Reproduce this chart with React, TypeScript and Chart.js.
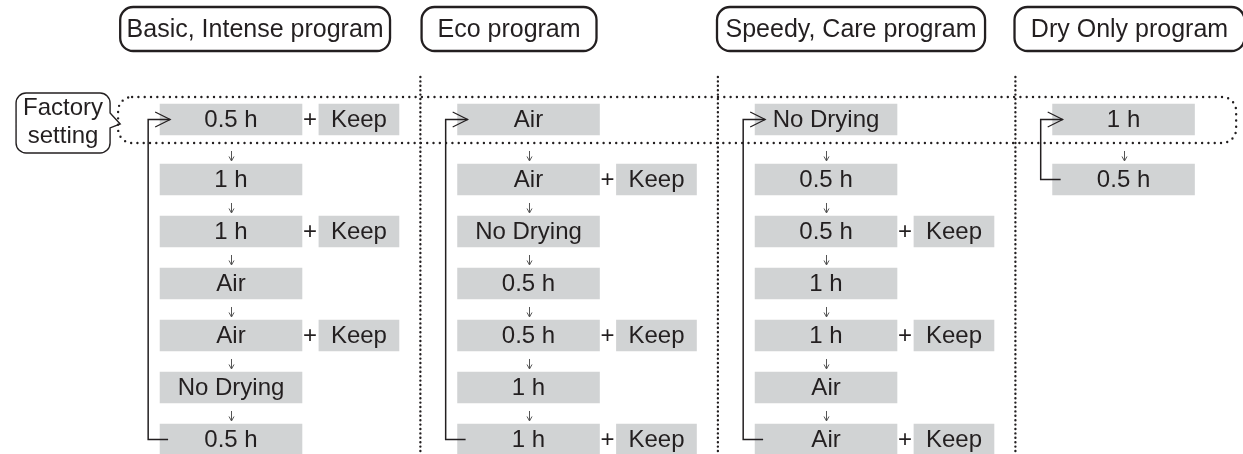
import React, { useEffect, useRef } from "react";
import { Chart, registerables } from "chart.js";

Chart.register(...registerables);

// ---------- DATA ----------
const programs = ["Basic, Intense program", "Eco program", "Speedy, Care program", "Dry Only program"];

const basicOptions = ["0.5 h", "1 h", "1 h", "Air", "Air", "No Drying", "0.5 h"];
const basicKeep = [true, false, true, false, true, false, false];

const ecoOptions = ["Air", "Air", "No Drying", "0.5 h", "0.5 h", "1 h", "1 h"];
const ecoKeep = [false, true, false, false, true, false, true];

const speedyOptions = ["No Drying", "0.5 h", "0.5 h", "1 h", "1 h", "Air", "Air"];
const speedyKeep = [false, false, true, false, true, false, true];

const dryOnlyOptions = ["1 h", "0.5 h"];
const dryOnlyKeep = [false, false];

const keepLabel = "Keep";
const plusLabel = "+";
const factoryLabel = ["Factory", "setting"];

// ---------- LAYOUT (column units on x, row units on y) ----------
const X_MIN = -0.538;
const X_MAX = 3.64;
const Y_MIN = -2.298;
const Y_MAX = 6.433;
const ROW_GAP_EXTRA = 0.154; // extra gap after the factory-setting row
const BOX_W = 0.477;
const KEEP_X0 = 0.534;
const KEEP_X1 = 0.803;
const PLUS_X = 0.504;
const LOOP_X = -0.04;
const LOOP_TIP = 0.034;
const LOOP_END = 0.027;
const SEP_X = -0.125;
const SEP_TOP = -0.817;
const HEADER_Y = -1.74;
const HEADER_HALF = 0.423;
const HEADER_SPAN: [number, number][] = [
  [-0.134, 0.773],
  [-0.121, 0.467],
  [-0.128, 0.773],
  [-0.128, 0.645],
];
const FACTORY_RECT = { x0: -0.141, x1: 3.617, y0: -0.433, y1: 0.452 };
const CALLOUT = { x0: -0.484, x1: -0.168, y0: -0.51, y1: 0.644, tipX: -0.134, pTop: -0.125, pTip: 0.087, pBot: 0.163 };
const BAR_PX = 31;

const GRAY = "#d1d3d4";
const INK = "#231f20";
const FONT = "'Liberation Sans', Arial, Helvetica, sans-serif";

const rowY = (r: number) => (r === 0 ? 0 : r + ROW_GAP_EXTRA);

const columns = [
  { title: programs[0], options: basicOptions, keep: basicKeep },
  { title: programs[1], options: ecoOptions, keep: ecoKeep },
  { title: programs[2], options: speedyOptions, keep: speedyKeep },
  { title: programs[3], options: dryOnlyOptions, keep: dryOnlyKeep },
];

const diagramPlugin = {
  id: "dryingDiagram",
  afterDatasetsDraw(chart: any) {
    const ctx: CanvasRenderingContext2D = chart.ctx;
    const xs = chart.scales.x;
    const ys = chart.scales.y;
    const X = (v: number) => xs.getPixelForValue(v);
    const Y = (v: number) => ys.getPixelForValue(v);
    const half = BAR_PX / 2;

    ctx.save();
    ctx.strokeStyle = INK;
    ctx.fillStyle = INK;

    // dotted separators
    ctx.lineCap = "round";
    ctx.lineWidth = 2.4;
    ctx.setLineDash([0, 4.4]);
    for (let c = 1; c < columns.length; c++) {
      ctx.beginPath();
      ctx.moveTo(X(c + SEP_X), Y(SEP_TOP));
      ctx.lineTo(X(c + SEP_X), Y(Y_MAX));
      ctx.stroke();
    }
    // dotted factory-setting frame
    ctx.setLineDash([0, 6.3]);
    ctx.beginPath();
    ctx.roundRect(
      X(FACTORY_RECT.x0),
      Y(FACTORY_RECT.y0),
      X(FACTORY_RECT.x1) - X(FACTORY_RECT.x0),
      Y(FACTORY_RECT.y1) - Y(FACTORY_RECT.y0),
      14
    );
    ctx.stroke();
    ctx.setLineDash([]);
    ctx.lineCap = "butt";

    // header boxes
    ctx.lineWidth = 2.3;
    ctx.font = `25px ${FONT}`;
    ctx.textAlign = "center";
    ctx.textBaseline = "middle";
    columns.forEach((col, c) => {
      const [a, b] = HEADER_SPAN[c];
      const x0 = X(c + a);
      const x1 = X(c + b);
      const y0 = Y(HEADER_Y - HEADER_HALF);
      const y1 = Y(HEADER_Y + HEADER_HALF);
      ctx.beginPath();
      ctx.roundRect(x0, y0, x1 - x0, y1 - y0, 13);
      ctx.stroke();
      ctx.fillText(col.title, (x0 + x1) / 2, (y0 + y1) / 2 + 1);
    });

    // factory callout
    {
      const x0 = X(CALLOUT.x0), x1 = X(CALLOUT.x1), y0 = Y(CALLOUT.y0), y1 = Y(CALLOUT.y1);
      const r = 10;
      ctx.lineWidth = 1.4;
      ctx.beginPath();
      ctx.moveTo(x0 + r, y0);
      ctx.lineTo(x1 - r, y0);
      ctx.arcTo(x1, y0, x1, y0 + r, r);
      ctx.lineTo(x1, Y(CALLOUT.pTop));
      ctx.lineTo(X(CALLOUT.tipX), Y(CALLOUT.pTip));
      ctx.lineTo(x1, Y(CALLOUT.pBot));
      ctx.lineTo(x1, y1 - r);
      ctx.arcTo(x1, y1, x1 - r, y1, r);
      ctx.lineTo(x0 + r, y1);
      ctx.arcTo(x0, y1, x0, y1 - r, r);
      ctx.lineTo(x0, y0 + r);
      ctx.arcTo(x0, y0, x0 + r, y0, r);
      ctx.closePath();
      ctx.stroke();
      ctx.font = `24px ${FONT}`;
      ctx.textAlign = "center";
      ctx.textBaseline = "alphabetic";
      const cx = (x0 + x1) / 2;
      ctx.fillText(factoryLabel[0], cx, y0 + 22);
      ctx.fillText(factoryLabel[1], cx, y0 + 50);
    }

    // loop lines with arrowheads
    ctx.lineWidth = 1.5;
    columns.forEach((col, c) => {
      const last = col.options.length - 1;
      const lx = X(c + LOOP_X);
      const yTop = Y(rowY(0));
      const yBot = Y(rowY(last));
      ctx.beginPath();
      ctx.moveTo(X(c + LOOP_END), yBot);
      ctx.lineTo(lx, yBot);
      ctx.lineTo(lx, yTop);
      ctx.lineTo(X(c + LOOP_TIP), yTop);
      ctx.stroke();
      const tx = X(c + LOOP_TIP);
      ctx.lineWidth = 1.2;
      ctx.beginPath();
      ctx.moveTo(tx - 15, yTop - 7.5);
      ctx.lineTo(tx, yTop);
      ctx.lineTo(tx - 15, yTop + 7.5);
      ctx.stroke();
      ctx.lineWidth = 1.5;
    });

    // down arrows between options
    ctx.strokeStyle = "#555";
    ctx.lineWidth = 1;
    columns.forEach((col, c) => {
      const ax = Math.round(X(c + BOX_W / 2)) + 0.5;
      for (let r = 0; r < col.options.length - 1; r++) {
        const yb = Y(rowY(r + 1)) - half - 3;
        const ya = yb - 10;
        ctx.beginPath();
        ctx.moveTo(ax, ya);
        ctx.lineTo(ax, yb);
        ctx.moveTo(ax - 2.5, yb - 4.5);
        ctx.lineTo(ax, yb);
        ctx.lineTo(ax + 2.5, yb - 4.5);
        ctx.stroke();
      }
    });

    // option texts, plus signs and keep texts
    ctx.fillStyle = INK;
    ctx.font = `24px ${FONT}`;
    ctx.textAlign = "center";
    ctx.textBaseline = "middle";
    columns.forEach((col, c) => {
      col.options.forEach((opt, r) => {
        const y = Y(rowY(r)) + 1;
        ctx.fillText(opt, X(c + BOX_W / 2), y);
        if (col.keep[r]) {
          ctx.fillText(plusLabel, X(c + PLUS_X), y);
          ctx.fillText(keepLabel, X(c + (KEEP_X0 + KEEP_X1) / 2), y);
        }
      });
    });

    ctx.restore();
  },
};

export default function App() {
  const ref = useRef<HTMLCanvasElement>(null);

  useEffect(() => {
    if (!ref.current) return;
    const optionBars: { x: [number, number]; y: number }[] = [];
    const keepBars: { x: [number, number]; y: number }[] = [];
    columns.forEach((col, c) => {
      col.options.forEach((_, r) => {
        optionBars.push({ x: [c, c + BOX_W], y: rowY(r) });
        if (col.keep[r]) keepBars.push({ x: [c + KEEP_X0, c + KEEP_X1], y: rowY(r) });
      });
    });

    const chart = new Chart(ref.current, {
      type: "bar",
      data: {
        datasets: [
          {
            label: "Drying option",
            data: optionBars as any,
            backgroundColor: GRAY,
            borderWidth: 0,
            barThickness: BAR_PX,
            grouped: false,
          } as any,
          {
            label: keepLabel,
            data: keepBars as any,
            backgroundColor: GRAY,
            borderWidth: 0,
            barThickness: BAR_PX,
            grouped: false,
          } as any,
        ],
      },
      options: {
        indexAxis: "y",
        animation: false,
        responsive: true,
        maintainAspectRatio: false,
        events: [],
        layout: { padding: 0 },
        plugins: { legend: { display: false }, tooltip: { enabled: false } },
        scales: {
          x: { type: "linear", min: X_MIN, max: X_MAX, display: false, offset: false },
          y: { type: "linear", reverse: true, min: Y_MIN, max: Y_MAX, display: false, offset: false },
        },
      },
      plugins: [diagramPlugin],
    });
    return () => chart.destroy();
  }, []);

  return (
    <div style={{ position: "absolute", left: 0, top: 0, width: 1243, height: 454, background: "#fff" }}>
      <canvas ref={ref} />
    </div>
  );
}
